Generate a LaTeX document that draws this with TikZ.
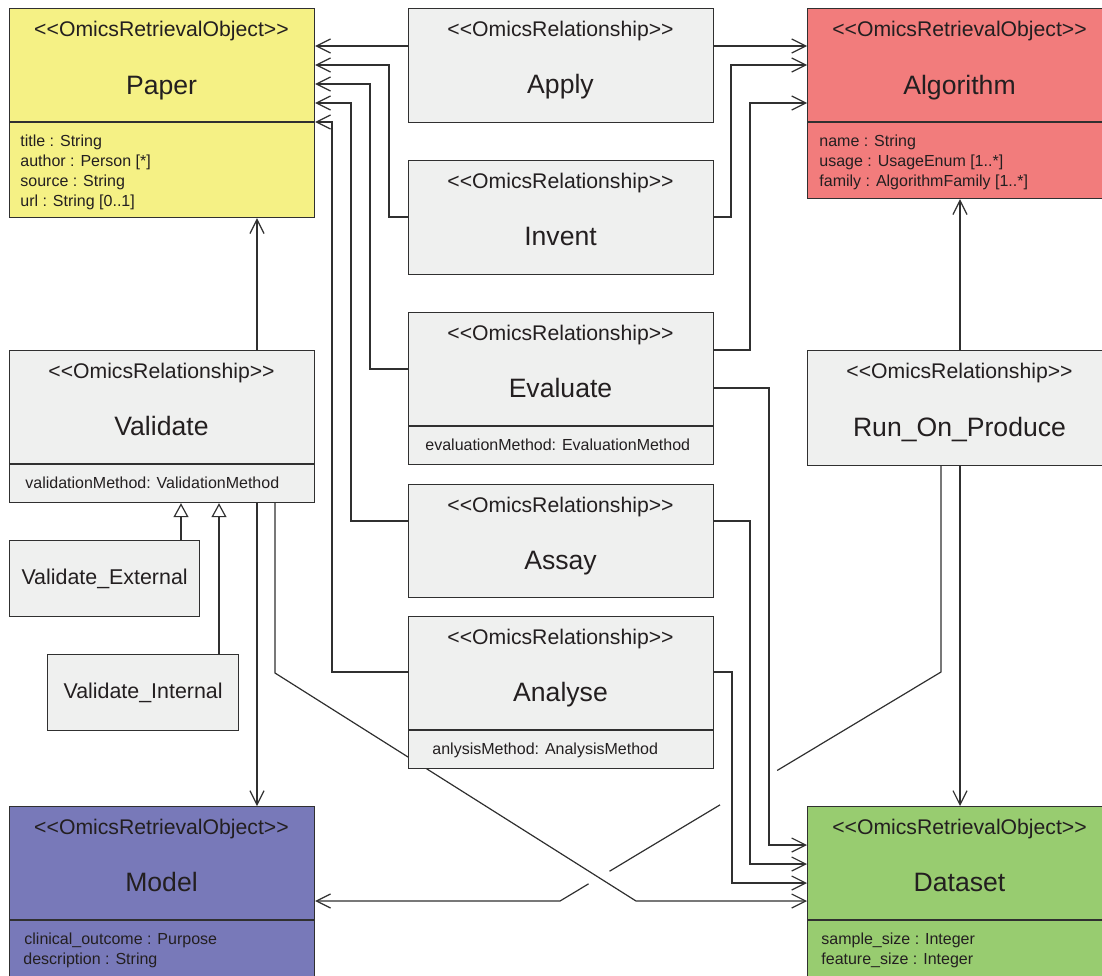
\documentclass[tikz,border=0pt]{standalone}
\usepackage{fontspec}
\setmainfont{Liberation Sans}
\usetikzlibrary{arrows.meta,calc,backgrounds}

\definecolor{edge}{HTML}{303030}
\definecolor{ink}{HTML}{231F20}
\definecolor{relfill}{HTML}{EFF0EF}
\definecolor{paperfill}{HTML}{F5F185}
\definecolor{algofill}{HTML}{F27C7C}
\definecolor{modelfill}{HTML}{7879B9}
\definecolor{datafill}{HTML}{98CC70}

\tikzset{
  box/.style={draw=edge, line width=0.6pt, anchor=north west, inner sep=0pt, minimum width=152.5pt},
  div/.style={draw=edge, line width=0.6pt},
  stereo/.style={anchor=base, inner sep=0pt, text=ink, font=\fontsize{10.6}{12}\selectfont},
  cname/.style={anchor=base, inner sep=0pt, text=ink, font=\fontsize{13.3}{15}\selectfont},
  subname/.style={text=ink, font=\fontsize{10.7}{12}\selectfont},
  attr/.style={anchor=base west, inner sep=0pt, text=ink, font=\fontsize{8}{10}\selectfont},
  link/.style={draw=edge, line width=0.6pt},
  assoc/.style={link, -{Straight Barb[length=7pt,width=7pt]}},
  gen/.style={link, -{Triangle[open,length=7pt,width=7.5pt]}},
}
\newcommand{\stereotype}[1]{<{}<#1>{}>}

\begin{document}
\begin{tikzpicture}[x=0.5pt,y=-0.5pt]
  \useasboundingbox (0,0) rectangle (1102,975);

  % retrieval objects
  \node[box, fill=paperfill, minimum height=104.5pt] (paper) at (9,8) {};
  \draw[div] ([yshift=-57pt]paper.north west) -- ([yshift=-57pt]paper.north east);
  \node[stereo] (paper-st) at (161.5,36) {\stereotype{OmicsRetrievalObject}};
  \node[cname] (paper-nm) at (161.5,94) {Paper};
  \foreach \t [count=\i] in {title : String, author : Person [*], source : String, url : String [0..1]}
    \node[attr] (paper-at\i) at (20,126.5+20*\i) {\t};

  \node[box, fill=algofill, minimum height=95pt] (algorithm) at (807,8) {};
  \draw[div] ([yshift=-57pt]algorithm.north west) -- ([yshift=-57pt]algorithm.north east);
  \node[stereo] (algorithm-st) at (959.5,36) {\stereotype{OmicsRetrievalObject}};
  \node[cname] (algorithm-nm) at (959.5,94) {Algorithm};
  \foreach \t [count=\i] in {name : String, usage : UsageEnum [1..*], family : AlgorithmFamily [1..*]}
    \node[attr] (algorithm-at\i) at (819,126.5+20*\i) {\t};

  \node[box, fill=modelfill, minimum height=100pt] (model) at (9,806) {};
  \draw[div] ([yshift=-57pt]model.north west) -- ([yshift=-57pt]model.north east);
  \node[stereo] (model-st) at (161.5,834) {\stereotype{OmicsRetrievalObject}};
  \node[cname] (model-nm) at (161.5,891) {Model};
  \node[attr] (model-at1) at (24,944) {clinical\_outcome : Purpose};
  \node[attr] (model-at2) at (23,964) {description : String};

  \node[box, fill=datafill, minimum height=100pt] (dataset) at (807,806) {};
  \draw[div] ([yshift=-57pt]dataset.north west) -- ([yshift=-57pt]dataset.north east);
  \node[stereo] (dataset-st) at (959.5,834) {\stereotype{OmicsRetrievalObject}};
  \node[cname] (dataset-nm) at (959.5,891) {Dataset};
  \node[attr] (dataset-at1) at (821,944) {sample\_size : Integer};
  \node[attr] (dataset-at2) at (821,964) {feature\_size : Integer};

  % relationships
  \node[box, fill=relfill, minimum height=57pt] (apply) at (408,8) {};
  \node[stereo] (apply-st) at (560.5,36) {\stereotype{OmicsRelationship}};
  \node[cname] (apply-nm) at (560.5,93) {Apply};

  \node[box, fill=relfill, minimum height=57pt] (invent) at (408,160) {};
  \node[stereo] (invent-st) at (560.5,188) {\stereotype{OmicsRelationship}};
  \node[cname] (invent-nm) at (560.5,245) {Invent};

  \node[box, fill=relfill, minimum height=76pt] (evaluate) at (408,312) {};
  \draw[div] ([yshift=-57pt]evaluate.north west) -- ([yshift=-57pt]evaluate.north east);
  \node[stereo] (evaluate-st) at (560.5,340) {\stereotype{OmicsRelationship}};
  \node[cname] (evaluate-nm) at (560.5,397) {Evaluate};
  \node[attr] (evaluate-at) at (425,450) {evaluationMethod: EvaluationMethod};

  \node[box, fill=relfill, minimum height=56.5pt] (assay) at (408,484) {};
  \node[stereo] (assay-st) at (560.5,512) {\stereotype{OmicsRelationship}};
  \node[cname] (assay-nm) at (560.5,569) {Assay};

  \node[box, fill=relfill, minimum height=76pt] (analyse) at (408,616) {};
  \draw[div] ([yshift=-57pt]analyse.north west) -- ([yshift=-57pt]analyse.north east);
  \node[stereo] (analyse-st) at (560.5,644) {\stereotype{OmicsRelationship}};
  \node[cname] (analyse-nm) at (560.5,701) {Analyse};
  \node[attr] (analyse-at) at (432,754) {anlysisMethod: AnalysisMethod};

  \node[box, fill=relfill, minimum height=76pt] (validate) at (9,350) {};
  \draw[div] ([yshift=-57pt]validate.north west) -- ([yshift=-57pt]validate.north east);
  \node[stereo] (validate-st) at (161.5,378) {\stereotype{OmicsRelationship}};
  \node[cname] (validate-nm) at (161.5,435) {Validate};
  \node[attr] (validate-at) at (25,488) {validationMethod: ValidationMethod};

  \node[box, fill=relfill, subname, minimum width=95pt, minimum height=38pt] (valext) at (9,540) {Validate\_External};
  \node[box, fill=relfill, subname, minimum width=95.5pt, minimum height=38pt] (valint) at (47,654) {Validate\_Internal};

  \node[box, fill=relfill, minimum height=57.5pt] (runon) at (807,350) {};
  \node[stereo] (runon-st) at (959.5,378) {\stereotype{OmicsRelationship}};
  \node[cname] (runon-nm) at (959.5,436) {Run\_On\_Produce};

  % connectors
  \begin{scope}[on background layer]
    \draw[assoc] (apply.west |- 0,46) -- (paper.east |- 0,46);
    \draw[assoc] (apply.east |- 0,46) -- (algorithm.west |- 0,46);
    \draw[assoc] (invent.west |- 0,217) -| (389,65) -- (paper.east |- 0,65);
    \draw[assoc] (invent.east |- 0,217) -| (731,65) -- (algorithm.west |- 0,65);
    \draw[assoc] (evaluate.west |- 0,369) -| (370,84) -- (paper.east |- 0,84);
    \draw[assoc] (evaluate.east |- 0,350) -| (750,103) -- (algorithm.west |- 0,103);
    \draw[assoc] (evaluate.east |- 0,388) -| (769,845) -- (dataset.west |- 0,845);
    \draw[assoc] (assay.west |- 0,521) -| (351,103) -- (paper.east |- 0,103);
    \draw[assoc] (assay.east |- 0,521) -| (750,864) -- (dataset.west |- 0,864);
    \draw[assoc] (analyse.west |- 0,672) -| (332,122) -- (paper.east |- 0,122);
    \draw[assoc] (analyse.east |- 0,672) -| (732,883) -- (dataset.west |- 0,883);
    \draw[assoc] (validate.north -| 257,0) -- (paper.south -| 257,0);
    \draw[assoc] (validate.south -| 257,0) -- (model.north -| 257,0);
    \draw[assoc] (validate.south -| 275,0) -- (275,673) -- (636,901) -- (dataset.west |- 0,901);
    \draw[assoc] (runon.north -| 960,0) -- (algorithm.south -| 960,0);
    \draw[assoc] (runon.south -| 960,0) -- (dataset.north -| 960,0);
    \coordinate (bend1) at (941,672);
    \coordinate (bend2) at (560,901);
    \draw[link] (runon.south -| bend1) -- (bend1) -- ($(bend1)!0.43!(bend2)$);
    \draw[link] ($(bend1)!0.58!(bend2)$) -- ($(bend1)!0.87!(bend2)$);
    \draw[assoc] ($(bend1)!0.925!(bend2)$) -- (bend2) -- (model.east |- bend2);
    \draw[gen] (valext.north -| 181,0) -- (validate.south -| 181,0);
    \draw[gen] (valint.north -| 219,0) -- (validate.south -| 219,0);
  \end{scope}
\end{tikzpicture}
\end{document}
